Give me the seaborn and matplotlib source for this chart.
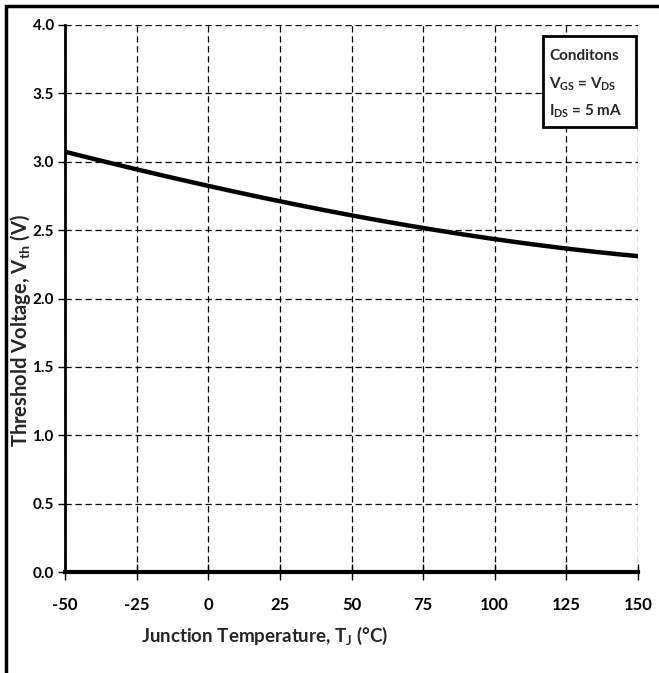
import matplotlib
matplotlib.use("Agg")
import matplotlib.pyplot as plt
import seaborn as sns
import numpy as np
import pandas as pd
from matplotlib.patches import Rectangle

temps = [-50, -25, 0, 25, 50, 75, 100, 125, 150]
vth = [3.075, 2.94, 2.825, 2.71, 2.615, 2.51, 2.434, 2.366, 2.31]
xticks = [-50, -25, 0, 25, 50, 75, 100, 125, 150]
yticks = [0.0, 0.5, 1.0, 1.5, 2.0, 2.5, 3.0, 3.5, 4.0]
cond_lines = ["Conditons", "V$_{\\mathregular{GS}}$ = V$_{\\mathregular{DS}}$", "I$_{\\mathregular{DS}}$ = 5 mA"]

sns.set_theme(style="white")
plt.rcParams['font.family'] = ['Lato', 'DejaVu Sans']
plt.rcParams['mathtext.fontset'] = 'custom'
plt.rcParams['mathtext.rm'] = 'Lato:bold'
plt.rcParams['mathtext.it'] = 'Lato:bold'
plt.rcParams['mathtext.bf'] = 'Lato:bold'

W, H = 659, 673
fig = plt.figure(figsize=(W/100, H/100), dpi=100)
ax = fig.add_axes([65/W, 1-572/H, (638-65)/W, (572-25)/H])

tt = np.linspace(-50, 150, 201)
coef = np.polyfit(temps, vth, 3)
smooth = pd.DataFrame({"T": tt, "V": np.polyval(coef, tt)})
sns.lineplot(data=smooth, x="T", y="V", ax=ax, color="black", linewidth=3.2)

ax.set_xlim(-50, 150)
ax.set_ylim(0, 4)
ax.set_xticks(xticks)
ax.set_yticks(yticks)
ax.set_xticklabels([str(t) for t in xticks], fontsize=12, fontweight="bold")
ax.set_yticklabels([f"{t:.1f}" for t in yticks], fontsize=11, fontweight="bold")
ax.grid(True, color="black", linestyle=(0, (5, 3)), linewidth=0.9)
ax.set_axisbelow(True)
for s in ["top", "right"]:
    ax.spines[s].set_visible(False)
ax.spines["left"].set_linewidth(2)
ax.spines["left"].set_color("black")
ax.spines["bottom"].set_linewidth(3)
ax.spines["bottom"].set_color("black")
ax.tick_params(axis="x", direction="inout", length=12, width=1, colors="black", pad=12, bottom=True)
ax.tick_params(axis="y", direction="out", length=5, width=1, colors="black", pad=3, left=True)

def axx(px):
    return (px - 65) / (638 - 65)
def axy(py):
    return (572 - py) / (572 - 25)

ax.set_xlabel("Junction Temperature, T$_{\\mathregular{J}}$ (°C)", fontsize=13.5, fontweight="bold")
ax.xaxis.set_label_coords(axx(265), axy(636))
ax.xaxis.label.set_va("center")
ax.set_ylabel("Threshold Voltage, V$_{\\mathregular{th}}$ (V)", fontsize=14.5, fontweight="bold")
ax.yaxis.set_label_coords(axx(21), axy(330))
ax.yaxis.label.set_va("center")

ax.add_patch(Rectangle((axx(543), axy(127)), axx(636) - axx(543), axy(36) - axy(127),
                       transform=ax.transAxes, facecolor="white", edgecolor="black",
                       linewidth=2, zorder=5))
for line, py in zip(cond_lines, [56, 84, 111]):
    ax.text(axx(549), axy(py), line, transform=ax.transAxes, ha="left", va="center",
            fontsize=11, fontweight="bold", zorder=6)

fig.patches.append(Rectangle((6/W, -0.2), 1.5, 1.2 - 6/H, transform=fig.transFigure,
                             fill=False, edgecolor="black", linewidth=2.5, zorder=0))

fig.savefig("out.png", dpi=100)
